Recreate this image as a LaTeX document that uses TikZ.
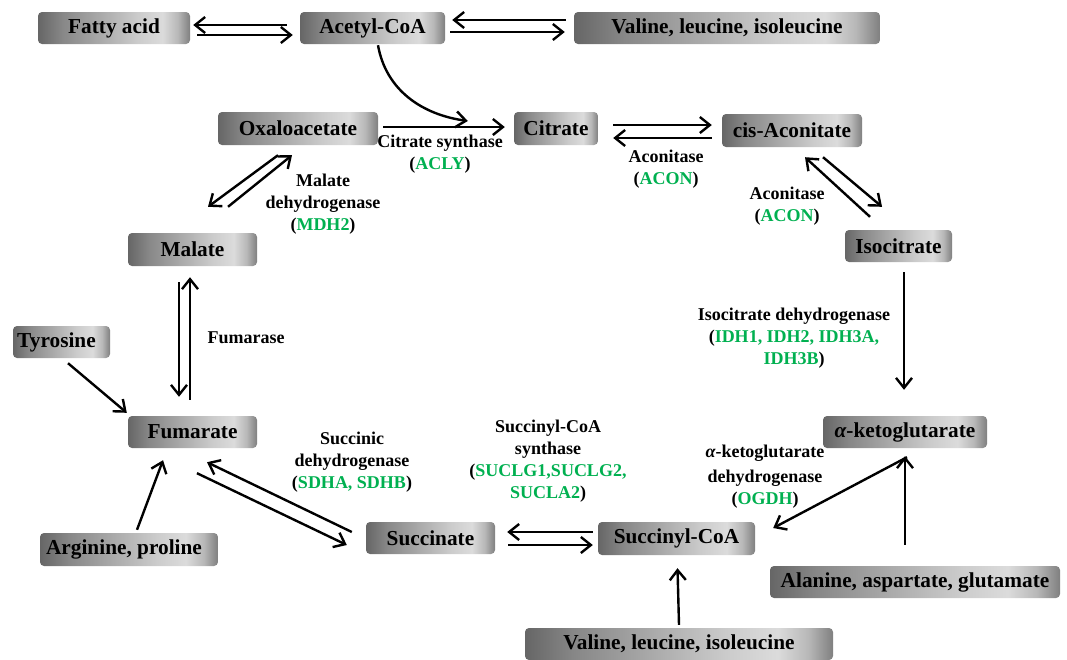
\documentclass[tikz,border=0pt]{standalone}
\usepackage{fontspec}
\setmainfont{Liberation Serif}
\usepackage{tikz}
\usetikzlibrary{arrows.meta,positioning}
\definecolor{genegreen}{RGB}{0,176,80}
\colorlet{shadeA}{black!60}
\colorlet{shadeB}{black!47}
\colorlet{shadeC}{black!20}
\colorlet{shadeD}{black!14}
\colorlet{shadeE}{black!28}
\colorlet{shadeF}{black!50}
\pgfdeclarehorizontalshading{metshade}{100bp}{color(0bp)=(shadeA); color(25bp)=(shadeA); color(33bp)=(shadeB); color(58bp)=(shadeC); color(66bp)=(shadeD); color(71bp)=(shadeE); color(75bp)=(shadeF); color(100bp)=(shadeF)}
\newcommand{\gene}[1]{\textcolor{genegreen}{#1}}

\begin{document}
\begin{tikzpicture}[x=1pt,y=-1pt,>={Straight Barb[length=10pt,width=16pt]}]
                    \tikzset{met/.style={shade,shading=metshade,rounded corners=4pt,minimum height=32pt,inner sep=0pt,font=\fontsize{21.3}{25}\selectfont\bfseries}}
                    \tikzset{enz/.style={align=center,inner sep=0pt,font=\fontsize{18}{22}\selectfont\bfseries}}
                    \tikzset{rx/.style={->,line width=2.4pt}}
                    \useasboundingbox (0,0) rectangle (1067,659);
                    \node[met,minimum width=152pt] (fatty) at (114,28) {Fatty acid};
                    \node[met,minimum width=145pt] (acetyl) at (372.5,28) {Acetyl-CoA};
                    \node[met,minimum width=306pt] (valtop) at (727,28) {Valine, leucine, isoleucine};
                    \node[met,minimum width=160pt,minimum height=33pt] (oxa) at (298,128.5) {Oxaloacetate};
                    \node[met,minimum width=84pt,minimum height=33pt] (citrate) at (556,128.5) {Citrate};
                    \node[met,minimum width=140pt,minimum height=33pt] (cis) at (792,130.5) {cis-Aconitate};
                    \node[met,minimum width=129pt,minimum height=33pt] (malate) at (192.5,249.5) {Malate};
                    \node[met,minimum width=107pt] (isocit) at (898.5,246) {Isocitrate};
                    \node[met,minimum width=97pt] (tyr) at (61.5,342) {\hspace*{-10pt}Tyrosine};
                    \node[met,minimum width=129pt] (fum) at (192.5,432) {Fumarate};
                    \node[met,minimum width=164pt] (akg) at (905,432) {{\itshape α}-ketoglutarate};
                    \node[met,minimum width=129pt] (succ) at (430.5,538) {Succinate};
                    \node[met,minimum width=157pt,minimum height=33pt] (sucoa) at (676.5,538.5) {Succinyl-CoA};
                    \node[met,minimum width=178pt,minimum height=33pt] (arg) at (129,549.5) {\hspace*{-10pt}Arginine, proline};
                    \node[met,minimum width=290pt] (ala) at (915,582) {Alanine, aspartate, glutamate};
                    \node[met,minimum width=308pt] (valbot) at (679,644) {Valine, leucine, isoleucine};
                    \node[enz] (csyn) at (440,154) {Citrate synthase\\(\gene{ACLY})};
                    \node[enz] (acon1) at (666,169) {Aconitase\\(\gene{ACON})};
                    \node[enz] (acon2) at (787,206) {Aconitase\\(\gene{ACON})};
                    \node[enz] (mdh) at (323,204) {Malate\\dehydrogenase\\(\gene{MDH2})};
                    \node[enz] (fumase) at (246,338) {Fumarase};
                    \node[enz] (idh) at (794,338) {Isocitrate dehydrogenase\\(\gene{IDH1, IDH2, IDH3A,}\\\gene{IDH3B})};
                    \node[enz] (ogdh) at (765,477) {{\itshape α}-ketoglutarate\\[3pt]dehydrogenase\\(\gene{OGDH})};
                    \node[enz] (sdh) at (352,462) {Succinic\\dehydrogenase\\(\gene{SDHA, SDHB})};
                    \node[enz] (sucs) at (548,461) {Succinyl-CoA\\synthase\\(\gene{SUCLG1,SUCLG2,}\\\gene{SUCLA2})};
                    \draw[rx] ([xshift=-13pt,yshift=3pt]acetyl.west) -- ([xshift=3pt,yshift=3pt]fatty.east);
                    \draw[rx] ([xshift=7pt,yshift=-7pt]fatty.east) -- ([xshift=-7pt,yshift=-7pt]acetyl.west);
                    \draw[rx] ([xshift=-8pt,yshift=8pt]valtop.west) -- ([xshift=7pt,yshift=8pt]acetyl.east);
                    \draw[rx] ([xshift=5pt,yshift=-4pt]acetyl.east) -- ([xshift=-9pt,yshift=-4pt]valtop.west);
                    \draw[rx] ([xshift=5pt,yshift=1.5pt]oxa.east) -- ([xshift=-9pt,yshift=1.5pt]citrate.west);
                    \coordinate (cs) at ([xshift=-46pt,yshift=7.5pt]citrate.west);
                    \draw[rx] ([xshift=5.5pt,yshift=-1pt]acetyl.south) to[out=-80,in=172] (cs);
                    \draw[rx] ([xshift=15pt,yshift=3.5pt]citrate.east) -- ([xshift=-10pt,yshift=5.5pt]cis.west);
                    \draw[rx] ([xshift=-10pt,yshift=-7.5pt]cis.west) -- ([xshift=15pt,yshift=-9.5pt]citrate.east);
                    \draw[rx] ([xshift=-28.5pt,yshift=13pt]isocit.north) -- ([xshift=13pt,yshift=-10pt]cis.south);
                    \draw[rx] ([xshift=31pt,yshift=-10pt]cis.south) -- ([xshift=-16.5pt,yshift=23pt]isocit.north);
                    \draw[rx] ([xshift=5.5pt,yshift=-10pt]isocit.south) -- ([xshift=-1pt,yshift=26pt]akg.north);
                    \draw[rx] ([xshift=2pt,yshift=-9pt]akg.south) -- ([xshift=18pt,yshift=10.5pt]sucoa.east);
                    \draw[rx] ([xshift=-10pt,yshift=21pt]ala.north) -- ([yshift=-8pt]akg.south);
                    \draw[rx] ([yshift=3pt]valbot.north) -- ([xshift=1pt,yshift=-13pt]sucoa.south);
                    \draw[rx] ([xshift=-5pt,yshift=6.5pt]sucoa.west) -- ([xshift=12pt,yshift=6pt]succ.east);
                    \draw[rx] ([xshift=13pt,yshift=-7pt]succ.east) -- ([xshift=-5pt,yshift=-6.5pt]sucoa.west);
                    \draw[rx] ([xshift=-14pt,yshift=6pt]succ.west) -- ([xshift=14.5pt,yshift=-14pt]fum.south);
                    \draw[rx] ([xshift=4.5pt,yshift=-25pt]fum.south) -- ([xshift=-19pt,yshift=-7pt]succ.west);
                    \draw[rx] ([xshift=-13.5pt,yshift=-16pt]malate.south) -- ([xshift=-13.5pt,yshift=19pt]fum.north);
                    \draw[rx] ([xshift=-2.5pt,yshift=16pt]fum.north) -- ([xshift=-2.5pt,yshift=-11pt]malate.south);
                    \draw[rx] ([xshift=35.5pt,yshift=26pt]malate.north) -- ([xshift=-6pt,yshift=-10pt]oxa.south);
                    \draw[rx] ([xshift=-20pt,yshift=-10pt]oxa.south) -- ([xshift=15.5pt,yshift=26pt]malate.north);
                    \draw[rx] ([xshift=6.5pt,yshift=-5pt]tyr.south) -- ([xshift=-1pt,yshift=3pt]fum.north west);
                    \draw[rx] ([xshift=8pt,yshift=3pt]arg.north) -- ([xshift=-29.5pt,yshift=-12pt]fum.south);
                \end{tikzpicture}
\end{document}
